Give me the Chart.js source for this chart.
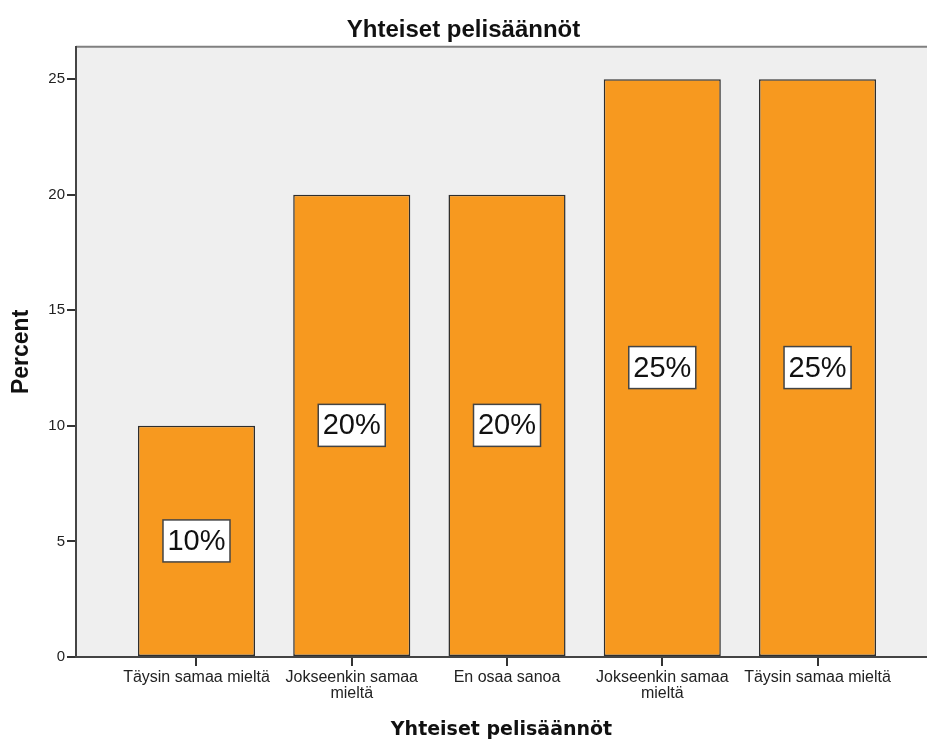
<!DOCTYPE html>
<html>
<head>
<meta charset="utf-8">
<script src="https://cdn.jsdelivr.net/npm/chart.js@4/dist/chart.umd.min.js"></script>
<style>
  html, body { margin: 0; padding: 0; background: #fff; }
  #wrap { width: 927px; height: 743px; }
</style>
</head>
<body>
<div id="wrap"><canvas id="chart"></canvas></div>
<script>
// data
const categories = [
  "Täysin samaa mieltä",
  ["Jokseenkin samaa", "mieltä"],
  "En osaa sanoa",
  ["Jokseenkin samaa", "mieltä"],
  "Täysin samaa mieltä"
];
const percents = [10, 20, 20, 25, 25];
const yTicks = [0, 5, 10, 15, 20, 25];

const chartTitle = "Yhteiset pelisäännöt";
const xTitle = "Yhteiset pelisäännöt";
const yTitle = "Percent";

// gray plot background + top frame line
const plotBg = {
  id: "plotBg",
  beforeDraw(chart) {
    const { ctx, chartArea: a } = chart;
    ctx.save();
    ctx.fillStyle = "#efefef";
    ctx.fillRect(a.left, a.top, a.right - a.left, a.bottom - a.top);
    ctx.strokeStyle = "#808080";
    ctx.lineWidth = 2;
    ctx.beginPath();
    ctx.moveTo(a.left, a.top);
    ctx.lineTo(a.right, a.top);
    ctx.stroke();
    ctx.restore();
  }
};

// white boxed value labels in the middle of each bar
const barLabels = {
  id: "barLabels",
  afterDatasetsDraw(chart) {
    const { ctx } = chart;
    const meta = chart.getDatasetMeta(0);
    ctx.save();
    ctx.font = "29px 'Liberation Sans', Arial, sans-serif";
    ctx.textAlign = "center";
    ctx.textBaseline = "middle";
    meta.data.forEach((bar, i) => {
      const cx = bar.x;
      const cy = (bar.y + bar.base) / 2;
      const w = 67, h = 42;
      ctx.fillStyle = "#ffffff";
      ctx.fillRect(cx - w / 2, cy - h / 2, w, h);
      ctx.strokeStyle = "#444";
      ctx.lineWidth = 1.5;
      ctx.strokeRect(cx - w / 2, cy - h / 2, w, h);
      ctx.fillStyle = "#111";
      ctx.fillText(percents[i] + "%", cx, cy + 1);
    });
    ctx.restore();
  }
};

const ctx = document.getElementById("chart").getContext("2d");
new Chart(ctx, {
  type: "bar",
  data: {
    datasets: [{
      data: percents.map((v, i) => ({ x: i, y: v })),
      backgroundColor: "#f7991f",
      borderColor: "#2e2e2e",
      borderWidth: 1.5,
      borderSkipped: false,
      categoryPercentage: 1,
      barPercentage: 0.754
    }]
  },
  options: {
    responsive: true,
    maintainAspectRatio: false,
    animation: false,
    layout: { padding: { left: 0, right: 0, top: 0, bottom: 0 } },
    plugins: {
      legend: { display: false },
      tooltip: { enabled: false },
      title: {
        display: true,
        text: chartTitle,
        color: "#111",
        font: { family: "'Liberation Sans', Arial, sans-serif", size: 24, weight: "bold", lineHeight: 1.2 },
        padding: { top: 16, bottom: 2 }
      }
    },
    scales: {
      x: {
        type: "linear",
        offset: false,
        min: -0.776,
        max: 4.705,
        afterBuildTicks(scale) {
          scale.ticks = categories.map((c, i) => ({ value: i }));
        },
        afterFit(scale) { scale.height = 86; },
        grid: { offset: false, drawOnChartArea: false, drawTicks: true, tickLength: 9, color: "#333", lineWidth: 2 },
        border: { display: true, color: "#444", width: 2 },
        ticks: {
          autoSkip: false,
          maxRotation: 0,
          padding: 3,
          color: "#222",
          font: { family: "'Liberation Sans', Arial, sans-serif", size: 16, lineHeight: 1.02 },
          callback: (v) => categories[v]
        },
        title: {
          display: true,
          text: xTitle,
          color: "#111",
          font: { family: "'DejaVu Sans', Verdana, sans-serif", size: 19, weight: "bold" },
          padding: { top: 10, bottom: 2 }
        }
      },
      y: {
        min: 0,
        max: 26.4,
        afterBuildTicks(scale) {
          scale.ticks = yTicks.map(v => ({ value: v }));
        },
        afterFit(scale) { scale.width = 76; },
        grid: { drawOnChartArea: false, drawTicks: true, tickLength: 9, color: "#333", lineWidth: 2 },
        border: { display: true, color: "#444", width: 2 },
        ticks: {
          padding: 2,
          color: "#222",
          font: { family: "'Liberation Sans', Arial, sans-serif", size: 15 }
        },
        title: {
          display: true,
          text: yTitle,
          color: "#111",
          font: { family: "'Liberation Sans', Arial, sans-serif", size: 23, weight: "bold" },
          padding: { top: 8, bottom: 0 }
        }
      }
    }
  },
  plugins: [plotBg, barLabels]
});
</script>
</body>
</html>
